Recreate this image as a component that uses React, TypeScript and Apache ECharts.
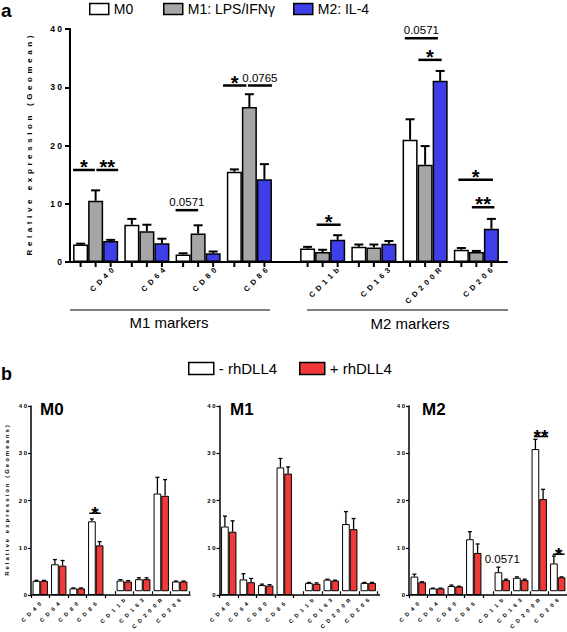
import React, { useEffect, useRef } from 'react';
import * as echarts from 'echarts';

const m1Markers = ['CD40', 'CD64', 'CD80', 'CD86'];
const m2Markers = ['CD11b', 'CD163', 'CD200R', 'CD206'];

// Panel a: order CD40, CD64, CD80, CD86, CD11b, CD163, CD200R, CD206
const aM0 = [3.0, 6.4, 1.3, 15.5, 2.3, 2.6, 21.0, 2.1];
const aM0Err = [0.15, 1.0, 0.2, 0.4, 0.3, 0.4, 3.5, 0.3];
const aM1 = [10.5, 5.3, 4.9, 26.6, 1.7, 2.5, 16.7, 1.7];
const aM1Err = [1.8, 1.1, 1.4, 2.2, 0.4, 0.5, 3.2, 0.2];
const aM2 = [3.6, 3.2, 1.5, 14.2, 3.8, 3.15, 31.1, 5.7];
const aM2Err = [0.2, 0.8, 0.3, 2.6, 0.8, 0.45, 1.7, 1.7];
const aSeriesNames = ['M0', 'M1: LPS/IFNγ', 'M2: IL-4'];

// Panel b: minus / plus rhDLL4 per macrophage type
const bPanels = ['M0', 'M1', 'M2'];
const bSeriesNames = ['- rhDLL4', '+ rhDLL4'];
const bM0Minus = [3.0, 6.5, 1.4, 15.6, 2.3, 2.6, 21.1, 2.1];
const bM0MinusErr = [0.1, 1.0, 0.1, 0.5, 0.2, 0.3, 3.5, 0.1];
const bM0Plus = [3.0, 6.2, 1.4, 10.5, 2.1, 2.6, 20.6, 2.1];
const bM0PlusErr = [0.1, 1.1, 0.1, 0.8, 0.2, 0.3, 3.5, 0.1];
const bM1Minus = [14.5, 3.3, 2.1, 27.0, 1.8, 2.5, 14.5, 1.8];
const bM1MinusErr = [2.2, 1.2, 0.2, 1.9, 0.1, 0.1, 2.7, 0.1];
const bM1Plus = [13.4, 2.7, 2.0, 25.7, 1.6, 2.3, 13.4, 1.8];
const bM1PlusErr = [2.3, 0.8, 0.2, 1.4, 0.2, 0.1, 2.3, 0.1];
const bM2Minus = [3.9, 1.4, 1.9, 11.8, 4.1, 2.9, 30.7, 6.0];
const bM2MinusErr = [0.5, 0.05, 0.2, 1.6, 1.1, 0.2, 2.1, 1.6];
const bM2Plus = [2.7, 1.4, 1.8, 8.9, 2.4, 2.4, 19.9, 3.0];
const bM2PlusErr = [0.1, 0.05, 0.05, 1.9, 0.2, 0.2, 2.1, 0.1];

// significance annotations: group (0 = first four markers, 1 = last four), category, bar-slot span, height
const aAnnot = [
  { grp: 0, cat: 0, x1: -0.5, x2: 0.95, y: 15.8, text: '*' },
  { grp: 0, cat: 0, x1: 1.05, x2: 2.5, y: 15.8, text: '**' },
  { grp: 0, cat: 2, x1: -0.5, x2: 1.0, y: 8.9, text: '0.0571' },
  { grp: 0, cat: 3, x1: -0.75, x2: 0.8, y: 30.3, text: '*' },
  { grp: 0, cat: 3, x1: 0.9, x2: 2.5, y: 30.3, text: '0.0765' },
  { grp: 1, cat: 0, x1: 0.6, x2: 2.2, y: 6.4, text: '*' },
  { grp: 1, cat: 2, x1: -0.35, x2: 1.85, y: 38.4, text: '0.0571' },
  { grp: 1, cat: 2, x1: 0.55, x2: 2.1, y: 34.7, text: '*' },
  { grp: 1, cat: 3, x1: -0.2, x2: 2.1, y: 14.1, text: '*' },
  { grp: 1, cat: 3, x1: 0.7, x2: 2.2, y: 9.4, text: '**' },
];
const bAnnot = [
  { panel: 0, grp: 0, cat: 3, x1: -0.35, x2: 1.15, y: 17.3, text: '*', line: true },
  { panel: 2, grp: 1, cat: 2, x1: -0.2, x2: 1.65, y: 33.4, text: '**', line: true },
  { panel: 2, grp: 1, cat: 3, x1: -0.13, x2: 1.4, y: 8.0, text: '*', line: true },
  { panel: 2, grp: 1, cat: 0, x1: 0, x2: 1, y: 6.8, text: '0.0571', line: false },
];

const FONT = '"Liberation Sans", Arial, Helvetica, sans-serif';
const spaced = (s: string, sep: string) => s.split('').join(sep);

const colA = ['#ffffff', '#a6a6a6', '#3f3fea'];
const colB = ['#ffffff', '#f03a3a'];

function errSeries(g: number, vals: number[], errs: number[], slot: number, n: number, gap: number, capW: number, lw: number, ticks: boolean) {
  return {
    type: 'custom',
    xAxisIndex: g,
    yAxisIndex: g,
    z: 5,
    silent: true,
    clip: false,
    encode: { x: 0, y: 1 },
    data: vals.map((v, i) => [i, v, errs[i]]),
    renderItem: (params: any, api: any) => {
      const c = api.value(0);
      const v = api.value(1);
      const e = api.value(2);
      const bw = (api.size([1, 0])[0] * (1 - gap)) / n;
      const base = api.coord([c, 0]);
      const cx = base[0] + (slot - (n - 1) / 2) * bw;
      const yTop = api.coord([c, v])[1];
      const yErr = api.coord([c, v + e])[1];
      const st = { stroke: '#000', lineWidth: lw };
      const children: any[] = [
        { type: 'line', shape: { x1: cx, y1: yTop, x2: cx, y2: yErr }, style: st },
        { type: 'line', shape: { x1: cx - capW / 2, y1: yErr, x2: cx + capW / 2, y2: yErr }, style: st },
      ];
      if (ticks) {
        children.push({ type: 'line', shape: { x1: cx, y1: base[1], x2: cx, y2: base[1] + 5 }, style: { stroke: '#000', lineWidth: 2 } });
      }
      return { type: 'group', children };
    },
  };
}

function annotSeries(g: number, items: any[], n: number, gap: number, lw: number, starSize: number, pSize: number, starDy: number, pDy: number) {
  return {
    type: 'custom',
    xAxisIndex: g,
    yAxisIndex: g,
    z: 6,
    silent: true,
    clip: false,
    encode: { x: 0, y: 3 },
    data: items.map((a) => [a.cat, a.x1, a.x2, a.y]),
    renderItem: (params: any, api: any) => {
      const it = items[params.dataIndex];
      const c = api.value(0);
      const bw = (api.size([1, 0])[0] * (1 - gap)) / n;
      const p = api.coord([c, api.value(3)]);
      const off = (n - 1) / 2;
      const xa = p[0] + (api.value(1) - off) * bw;
      const xb = p[0] + (api.value(2) - off) * bw;
      const isStar = it.text.indexOf('*') >= 0;
      const children: any[] = [];
      if (it.line !== false) {
        children.push({ type: 'line', shape: { x1: xa, y1: p[1], x2: xb, y2: p[1] }, style: { stroke: '#000', lineWidth: lw } });
      }
      children.push({
        type: 'text',
        x: (xa + xb) / 2,
        y: p[1] + (isStar ? starDy : pDy),
        style: {
          text: it.text,
          fill: '#000',
          font: `${isStar ? 'bold ' : ''}${isStar ? starSize : pSize}px ${FONT}`,
          align: 'center',
          verticalAlign: 'middle',
        },
      });
      return { type: 'group', children };
    },
  };
}

export default function App() {
  const ref = useRef<HTMLDivElement>(null);
  useEffect(() => {
    if (!ref.current) return;
    const chart = echarts.init(ref.current, null, { renderer: 'svg' });

    const grid: any[] = [];
    const xAxis: any[] = [];
    const yAxis: any[] = [];
    const series: any[] = [];

    const frameX = (gi: number, w: number) => ({
      gridIndex: gi, type: 'value', min: 0, max: 1,
      axisLine: { show: true, onZero: false, lineStyle: { color: '#000', width: w } },
      axisTick: { show: false }, axisLabel: { show: false }, splitLine: { show: false },
    });
    const hiddenY = (gi: number) => ({ gridIndex: gi, type: 'value', min: 0, max: 40, show: false });

    // ---------- Panel a ----------
    const aTop = 29, aH = 233;
    grid.push({ left: 70, top: aTop, width: 437, height: aH });
    grid.push({ left: 70, top: aTop, width: 205, height: aH });
    grid.push({ left: 297, top: aTop, width: 205, height: aH });
    xAxis.push(frameX(0, 2));
    yAxis.push({
      gridIndex: 0, type: 'value', min: 0, max: 40, interval: 10,
      axisLine: { show: true, lineStyle: { color: '#000', width: 2 } },
      axisTick: { show: true, length: 5, lineStyle: { color: '#000', width: 2 } },
      axisLabel: { formatter: (v: number) => spaced(String(v), ' '), color: '#000', fontSize: 8.5, fontWeight: 'bold', fontFamily: FONT, margin: 8 },
      splitLine: { show: false },
      name: spaced('Relative expression (Geomean)', '\u2005\u2009'),
      nameLocation: 'middle', nameRotate: 90, nameGap: 37,
      nameTextStyle: { color: '#000', fontSize: 8, fontWeight: 'bold', fontFamily: FONT },
    });
    const aGroups = [m1Markers, m2Markers];
    const aVals = [aM0, aM1, aM2];
    const aErrs = [aM0Err, aM1Err, aM2Err];
    const aGap = 0.12;
    aGroups.forEach((cats, gi) => {
      const g = gi + 1;
      xAxis.push({
        gridIndex: g, type: 'category', data: cats,
        axisLine: { show: false }, axisTick: { show: false }, axisLabel: { show: false },
      });
      yAxis.push(hiddenY(g));
      const sl = (arr: number[]) => arr.slice(gi * 4, gi * 4 + 4);
      aVals.forEach((vals, k) => {
        series.push({
          type: 'bar', name: aSeriesNames[k], xAxisIndex: g, yAxisIndex: g,
          data: sl(vals), barGap: '0%', barCategoryGap: '12%', silent: true,
          itemStyle: { color: colA[k], borderColor: '#000', borderWidth: 1.5 },
        });
        series.push(errSeries(g, sl(vals), sl(aErrs[k]), k, 3, aGap, 9, 2, true));
      });
      series.push(annotSeries(g, aAnnot.filter((a) => a.grp === gi), 3, aGap, 2.5, 20, 11.5, -3, -8));
    });
    // label-only axes for panel a (labels sit to the right of the group centre, as in the original)
    const aLabelShift = [17, 15];
    const aLabelLeft = [70, 297];
    aGroups.forEach((cats, gi) => {
      const g = grid.length;
      grid.push({ left: aLabelLeft[gi] + aLabelShift[gi], top: aTop, width: 205, height: aH });
      xAxis.push({
        gridIndex: g, type: 'category', data: cats,
        axisLine: { show: false }, axisTick: { show: false },
        axisLabel: {
          interval: 0, rotate: 45, margin: 7,
          formatter: (v: string) => spaced(v, '\u2002'),
          color: '#000', fontSize: 7.5, fontWeight: 'bold', fontFamily: FONT,
        },
      });
      yAxis.push(hiddenY(g));
    });

    // ---------- Panel b ----------
    const bTop = 406, bH = 189;
    const bX0 = [31, 219.5, 409];
    const bW = [159, 160, 158];
    const bVals = [
      [bM0Minus, bM0Plus],
      [bM1Minus, bM1Plus],
      [bM2Minus, bM2Plus],
    ];
    const bErrs = [
      [bM0MinusErr, bM0PlusErr],
      [bM1MinusErr, bM1PlusErr],
      [bM2MinusErr, bM2PlusErr],
    ];
    const bGap = 0.17;
    bPanels.forEach((_, p) => {
      const f = grid.length;
      grid.push({ left: bX0[p], top: bTop, width: bW[p], height: bH });
      grid.push({ left: bX0[p], top: bTop, width: 74, height: bH });
      grid.push({ left: bX0[p] + 84, top: bTop, width: 74, height: bH });
      xAxis.push(frameX(f, 1.5));
      yAxis.push({
        gridIndex: f, type: 'value', min: 0, max: 40, interval: 10,
        axisLine: { show: true, lineStyle: { color: '#000', width: 1.5 } },
        axisTick: { show: true, length: 3, lineStyle: { color: '#000', width: 1.2 } },
        axisLabel: { formatter: (v: number) => spaced(String(v), ' '), color: '#000', fontSize: 6, fontWeight: 'bold', fontFamily: FONT, margin: 4 },
        splitLine: { show: false },
        name: p === 0 ? spaced('Relative expression (Geomeans)', '\u2004') : '',
        nameLocation: 'middle', nameRotate: 90, nameGap: 21,
        nameTextStyle: { color: '#000', fontSize: 6, fontWeight: 'bold', fontFamily: FONT },
      });
      aGroups.forEach((cats, gi) => {
        const g = f + 1 + gi;
        xAxis.push({
          gridIndex: g, type: 'category', data: cats,
          axisLine: { show: false },
          axisTick: { show: true, length: 3, lineStyle: { color: '#000', width: 1.2 } },
          axisLabel: {
            interval: 0, rotate: 45, margin: 8,
            formatter: (v: string) => spaced(v, '\u2002\u2009'),
            color: '#000', fontSize: 5.5, fontWeight: 'bold', fontFamily: FONT,
          },
        });
        yAxis.push(hiddenY(g));
        const sl = (arr: number[]) => arr.slice(gi * 4, gi * 4 + 4);
        bVals[p].forEach((vals, k) => {
          series.push({
            type: 'bar', name: bSeriesNames[k], xAxisIndex: g, yAxisIndex: g,
            data: sl(vals), barGap: '0%', barCategoryGap: '17%', silent: true,
            itemStyle: { color: colB[k], borderColor: '#000', borderWidth: 1 },
          });
          series.push(errSeries(g, sl(vals), sl(bErrs[p][k]), k, 2, bGap, 4, 1.3, false));
        });
        const items = bAnnot.filter((a) => a.panel === p && a.grp === gi);
        if (items.length) series.push(annotSeries(g, items, 2, bGap, 1.5, 19, 11.5, 0, -1));
      });
    });

    const legendBase = (name: string, left: number, top: number, w: number, h: number, fs: number) => ({
      data: [name], left, top, padding: 0, itemWidth: w, itemHeight: h, icon: 'rect',
      selectedMode: false,
      itemStyle: { borderColor: '#000', borderWidth: 1.5 },
      textStyle: { color: '#000', fontSize: fs, fontFamily: FONT },
    });

    const txt = (text: string, x: number, y: number, font: string, align = 'left') => ({
      type: 'text', x, y, silent: true,
      style: { text, font, fill: '#000', align, verticalAlign: 'middle' },
    });

    chart.setOption({
      animation: false,
      backgroundColor: '#ffffff',
      grid,
      xAxis,
      yAxis,
      series,
      legend: [
        legendBase(aSeriesNames[0], 89, 2, 19, 11, 14),
        legendBase(aSeriesNames[1], 163, 2, 19, 11, 14),
        legendBase(aSeriesNames[2], 293, 2, 19, 11, 14),
        legendBase(bSeriesNames[0], 188, 361, 25, 12, 15),
        legendBase(bSeriesNames[1], 299, 361, 25, 12, 15),
      ],
      graphic: [
        txt('a', 1, 10, `bold 19px ${FONT}`),
        txt('b', 1, 374, `bold 18px ${FONT}`),
        txt('M1 markers', 169, 322, `15px ${FONT}`, 'center'),
        txt('M2 markers', 410, 323, `15px ${FONT}`, 'center'),
        { type: 'line', silent: true, shape: { x1: 70, y1: 310, x2: 270, y2: 310 }, style: { stroke: '#000', lineWidth: 1.2 } },
        { type: 'line', silent: true, shape: { x1: 307, y1: 310, x2: 508, y2: 310 }, style: { stroke: '#000', lineWidth: 1.2 } },
        txt(bPanels[0], 40, 409, `bold 17px ${FONT}`),
        txt(bPanels[1], 230, 409, `bold 17px ${FONT}`),
        txt(bPanels[2], 422, 409, `bold 17px ${FONT}`),
      ],
    });
    return () => chart.dispose();
  }, []);
  return <div ref={ref} style={{ position: 'absolute', left: 0, top: 0, width: 567, height: 632 }} />;
}
